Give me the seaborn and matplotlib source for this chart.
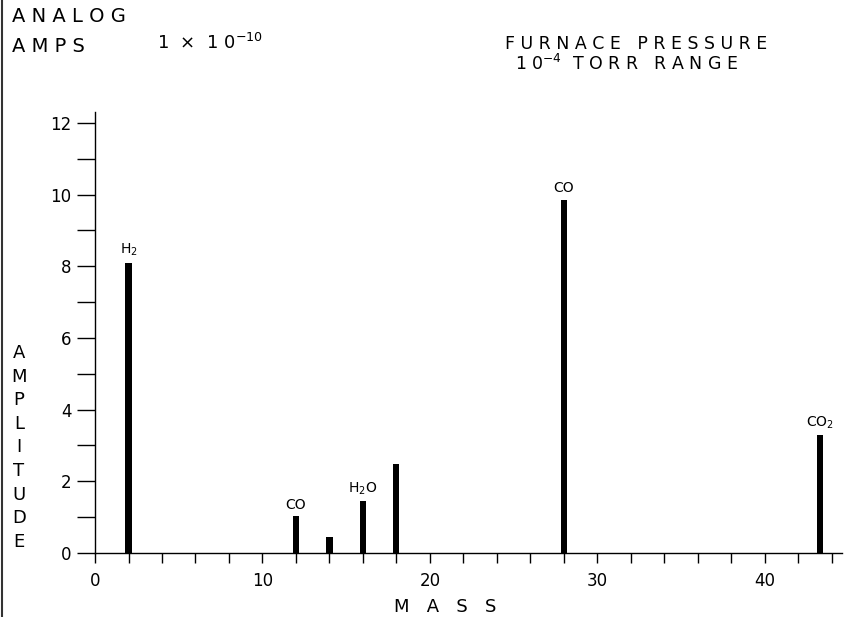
import matplotlib
matplotlib.use("Agg")
import matplotlib.pyplot as plt
from matplotlib.lines import Line2D
from matplotlib.ticker import MultipleLocator
import numpy as np
import pandas as pd
import seaborn as sns

# peak positions (mass) and amplitudes
mass = [2, 12, 14, 16, 18, 28, 43.3]
amplitude = [8.1, 1.03, 0.45, 1.45, 2.49, 9.86, 3.3]
peak_labels = ["H$_2$", "CO", "", "H$_2$O", "", "CO", "CO$_2$"]

x_major = [0, 10, 20, 30, 40]
y_major = [0, 2, 4, 6, 8, 10, 12]

sns.set_theme(style="white")
plt.rcParams["font.family"] = ["DejaVu Sans"]
plt.rcParams["text.color"] = "black"
plt.rcParams["xtick.color"] = "black"
plt.rcParams["ytick.color"] = "black"

df = pd.DataFrame({"mass": mass, "amplitude": amplitude})

fig = plt.figure(figsize=(8.59, 6.17), dpi=100)
ax = fig.add_axes([0.1106, 0.1037, 0.8696, 0.7147])

sns.barplot(data=df, x="mass", y="amplitude", native_scale=True, orient="x",
            width=0.18, color="black", linewidth=0, saturation=1, ax=ax)

for m, a, lab in zip(mass, amplitude, peak_labels):
    if lab:
        ax.annotate(lab, (m, a), xytext=(0, 3), textcoords="offset points",
                    ha="center", va="bottom", fontsize=10, color="black")

ax.set_xlim(0, 44.6)
ax.set_ylim(0, 12.3)
ax.set_xticks(x_major)
ax.set_yticks(y_major)
ax.xaxis.set_minor_locator(MultipleLocator(2))
ax.yaxis.set_minor_locator(MultipleLocator(1))
ax.set_xticklabels([str(v) for v in x_major])
ax.set_yticklabels([str(v) for v in y_major])
ax.tick_params(axis="x", which="both", direction="out", length=7, width=1,
               color="black", labelcolor="black", bottom=True, pad=7, labelsize=12)
ax.tick_params(axis="y", which="both", direction="out", length=13, width=1,
               color="black", labelcolor="black", left=True, pad=4, labelsize=12)
ax.set_xlabel("")
ax.set_ylabel("")
sns.despine(ax=ax)
for side in ["left", "bottom"]:
    ax.spines[side].set_color("black")
    ax.spines[side].set_linewidth(1)

W, H = 859, 617


def ftext(x, y, s, **kw):
    fig.text(x / W, 1 - y / H, s, color="black", **kw)


ftext(12, 17, "A N A L O G", fontsize=14, va="center", ha="left")
ftext(12, 46, "A M P S", fontsize=14, va="center", ha="left")
ftext(157, 43, r"1  $\times$  1 0$^{-10}$", fontsize=13, va="center", ha="left")
ftext(636, 44, "F U R N A C E   P R E S S U R E", fontsize=12.5, va="center", ha="center")
ftext(627, 64, "1 0$^{-4}$  T O R R   R A N G E", fontsize=12.5, va="center", ha="center")

for i, ch in enumerate("AMPLITUDE"):
    ftext(19, 353 + i * 23.6, ch, fontsize=13, va="center", ha="center")

ftext(445, 607, "M   A   S   S", fontsize=13, va="center", ha="center")

fig.add_artist(Line2D([2 / W, 2 / W], [0, 1], transform=fig.transFigure,
                      color="#333333", linewidth=1.5))

fig.savefig("out.png", dpi=100)
